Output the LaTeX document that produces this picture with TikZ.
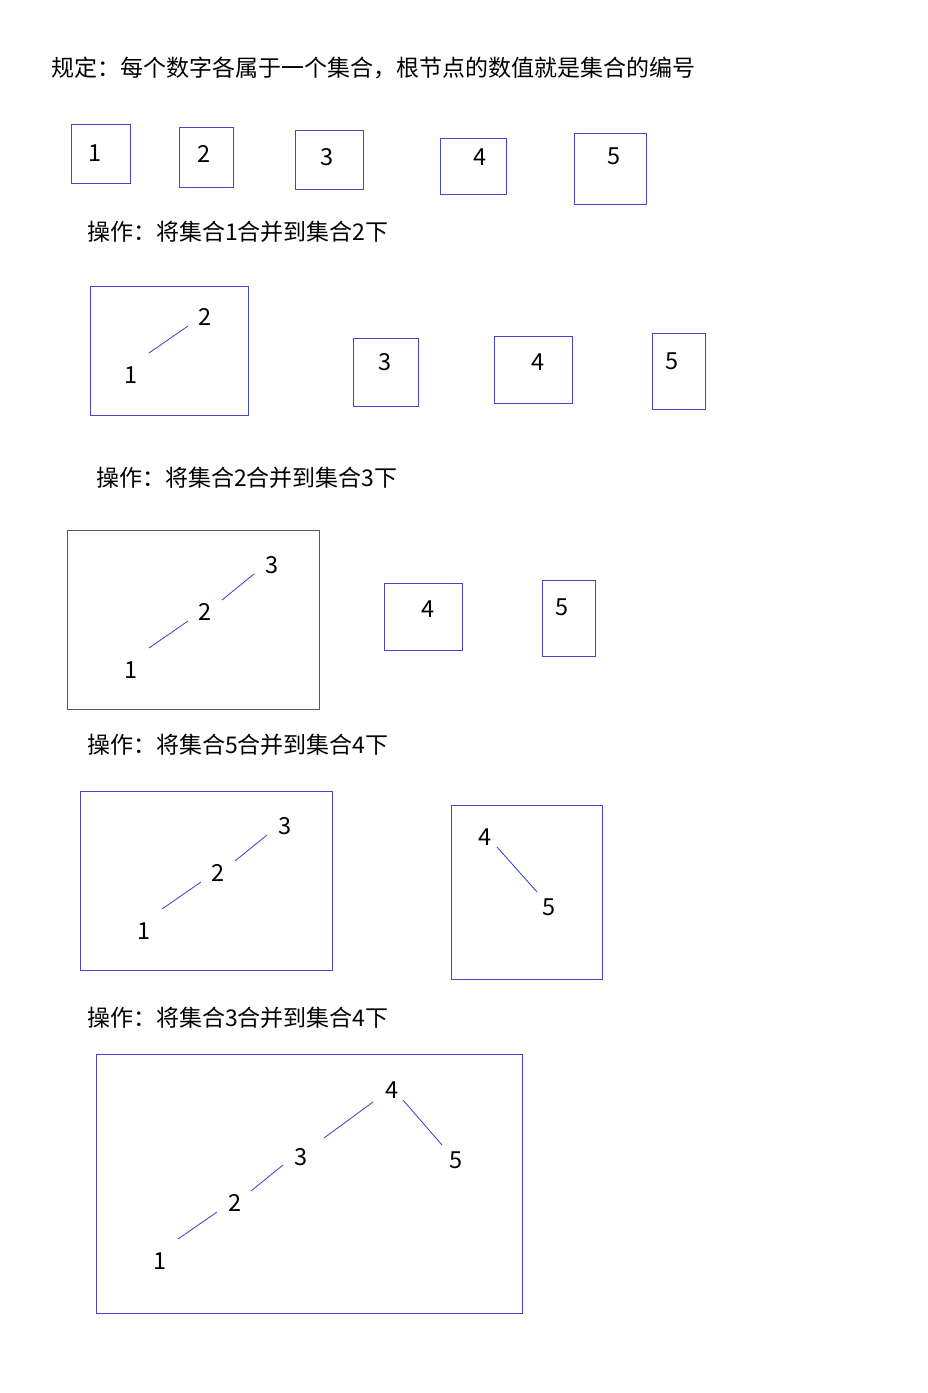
\documentclass[tikz,border=0pt]{standalone}
\usepackage{fontspec}
\setmainfont{Noto Sans CJK SC}
\usetikzlibrary{calc}
\definecolor{bx}{RGB}{68,68,204}
\definecolor{gbx}{RGB}{80,80,130}
\definecolor{ln}{RGB}{60,60,200}
\begin{document}
\begin{tikzpicture}[x=1pt,y=-1pt,
  lbl/.style={font=\fontsize{23.5}{27}\selectfont, inner sep=0pt, anchor=center, xshift=1pt},
  optext/.style={font=\fontsize{23}{27}\selectfont, inner sep=0pt, anchor=west},
  box/.style={draw=bx, line width=1pt},
  gbox/.style={draw=gbx, line width=1pt},
  conn/.style={draw=ln, line width=0.8pt}]
\useasboundingbox (0,0) rectangle (927,1393);
\fill[white] (0,0) rectangle (927,1393);

% title
\node[optext] (title) at (51,68) {规定：每个数字各属于一个集合，根节点的数值就是集合的编号};

% row 1
\draw[box] (71,124) rectangle (130,183);
\draw[box] (179,127) rectangle (233,187);
\draw[box] (295,130) rectangle (363,189);
\draw[box] (440,138) rectangle (506,194);
\draw[box] (574,133) rectangle (646,204);
\node[lbl] (a1) at (94,153) {1};
\node[lbl] (a2) at (203,154) {2};
\node[lbl] (a3) at (326,157) {3};
\node[lbl] (a4) at (479,157) {4};
\node[lbl] (a5) at (613,156) {5};

\node[optext] (op1) at (87,232) {操作：将集合1合并到集合2下};

% row 2
\draw[box] (90,286) rectangle (248,415);
\node[lbl] (b2) at (204,317) {2};
\node[lbl] (b1) at (130,375) {1};
\draw[conn] ($(b1)+(18,-22)$) -- ($(b2)+(-17,9)$);
\draw[box] (353,338) rectangle (418,406);
\node[lbl] (b3) at (384,362) {3};
\draw[box] (494,336) rectangle (572,403);
\node[lbl] (b4) at (537,362) {4};
\draw[box] (652,333) rectangle (705,409);
\node[lbl] (b5) at (671,361) {5};

\node[optext] (op2) at (96,478) {操作：将集合2合并到集合3下};

% row 3
\draw[gbox] (67,530) rectangle (319,709);
\node[lbl] (c3) at (271,565) {3};
\node[lbl] (c2) at (204,612) {2};
\node[lbl] (c1) at (130,670) {1};
\draw[conn] ($(c1)+(18,-22)$) -- ($(c2)+(-17,9)$);
\draw[conn] ($(c2)+(17,-12)$) -- ($(c3)+(-18,9)$);
\draw[box] (384,583) rectangle (462,650);
\node[lbl] (c4) at (427,609) {4};
\draw[box] (542,580) rectangle (595,656);
\node[lbl] (c5) at (561,607) {5};

\node[optext] (op3) at (87,745) {操作：将集合5合并到集合4下};

% row 4
\draw[box] (80,791) rectangle (332,970);
\node[lbl] (d3) at (284,826) {3};
\node[lbl] (d2) at (217,873) {2};
\node[lbl] (d1) at (143,931) {1};
\draw[conn] ($(d1)+(18,-22)$) -- ($(d2)+(-17,9)$);
\draw[conn] ($(d2)+(17,-12)$) -- ($(d3)+(-18,9)$);
\draw[box] (451,805) rectangle (602,979);
\node[lbl] (d4) at (484,837) {4};
\node[lbl] (d5) at (548,907) {5};
\draw[conn] ($(d4)+(12,10)$) -- ($(d5)+(-12,-15)$);

\node[optext] (op4) at (87,1018) {操作：将集合3合并到集合4下};

% row 5
\draw[box] (96,1054) rectangle (522,1313);
\node[lbl] (e4) at (391,1090) {4};
\node[lbl] (e3) at (300,1157) {3};
\node[lbl] (e2) at (234,1203) {2};
\node[lbl] (e1) at (159,1261) {1};
\node[lbl] (e5) at (455,1160) {5};
\draw[conn] ($(e1)+(18,-22)$) -- ($(e2)+(-18,9)$);
\draw[conn] ($(e2)+(16,-12)$) -- ($(e3)+(-18,8)$);
\draw[conn] ($(e3)+(23,-19)$) -- ($(e4)+(-19,12)$);
\draw[conn] ($(e4)+(11,10)$) -- ($(e5)+(-14,-15)$);
\end{tikzpicture}
\end{document}
